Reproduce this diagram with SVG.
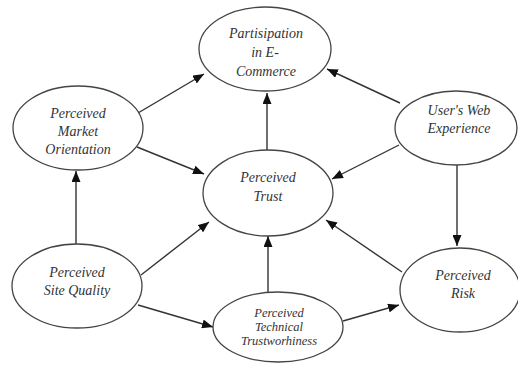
<svg xmlns="http://www.w3.org/2000/svg" width="518" height="367" viewBox="0 0 518 367">
  <style>
    .node ellipse { fill: #ffffff; stroke: #444; stroke-width: 1.3; }
    .node text { font-family: "Liberation Serif", "Times New Roman", serif; font-style: italic; font-size: 14px; fill: #333; text-anchor: middle; }
    .node text.small { font-size: 12.5px; }
    .edges line { stroke: #333; stroke-width: 1.4; marker-end: url(#arrow); }
  </style>
  <defs>
    <marker id="arrow" markerUnits="userSpaceOnUse" markerWidth="11" markerHeight="9" refX="11" refY="4.5" orient="auto">
      <path d="M0,0 L11,4.5 L0,9 Z" fill="#111"/>
    </marker>
  </defs>
  <rect width="518" height="367" fill="#ffffff"/>

  <g class="edges">
    <line x1="138" y1="113" x2="204" y2="74"/>
    <line x1="137" y1="147" x2="204" y2="174"/>
    <line x1="76" y1="244" x2="76" y2="171"/>
    <line x1="141" y1="275" x2="209" y2="222"/>
    <line x1="138" y1="305" x2="213" y2="327"/>
    <line x1="268" y1="292" x2="268" y2="236"/>
    <line x1="343" y1="321" x2="399" y2="305"/>
    <line x1="402" y1="272" x2="326" y2="220"/>
    <line x1="400" y1="103" x2="327" y2="69"/>
    <line x1="399" y1="145" x2="332" y2="179"/>
    <line x1="457" y1="165" x2="457" y2="246"/>
    <line x1="267" y1="151" x2="267" y2="93"/>
  </g>

  <g id="participation" class="node">
    <ellipse cx="265" cy="49" rx="66" ry="42"/>
    <text x="266" y="38">Partisipation</text>
    <text x="265" y="57">in E-</text>
    <text x="266" y="76">Commerce</text>
  </g>

  <g id="market-orientation" class="node">
    <ellipse cx="78" cy="128" rx="65" ry="42"/>
    <text x="78" y="118">Perceived</text>
    <text x="78" y="136">Market</text>
    <text x="78" y="154">Orientation</text>
  </g>

  <g id="web-experience" class="node">
    <ellipse cx="456" cy="128" rx="61" ry="37"/>
    <text x="459" y="115">User's Web</text>
    <text x="459" y="133">Experience</text>
  </g>

  <g id="trust" class="node">
    <ellipse cx="268" cy="193" rx="65" ry="43"/>
    <text x="268" y="182">Perceived</text>
    <text x="268" y="201">Trust</text>
  </g>

  <g id="site-quality" class="node">
    <ellipse cx="77" cy="286" rx="65" ry="42"/>
    <text x="77" y="277">Perceived</text>
    <text x="77" y="295">Site Quality</text>
  </g>

  <g id="technical-trustworthiness" class="node">
    <ellipse cx="278" cy="327" rx="65" ry="35"/>
    <text class="small" x="279" y="317">Perceived</text>
    <text class="small" x="279" y="331">Technical</text>
    <text class="small" x="279" y="345">Trustworhiness</text>
  </g>

  <g id="risk" class="node">
    <ellipse cx="460" cy="290" rx="60" ry="42"/>
    <text x="463" y="280">Perceived</text>
    <text x="463" y="298">Risk</text>
  </g>
</svg>
